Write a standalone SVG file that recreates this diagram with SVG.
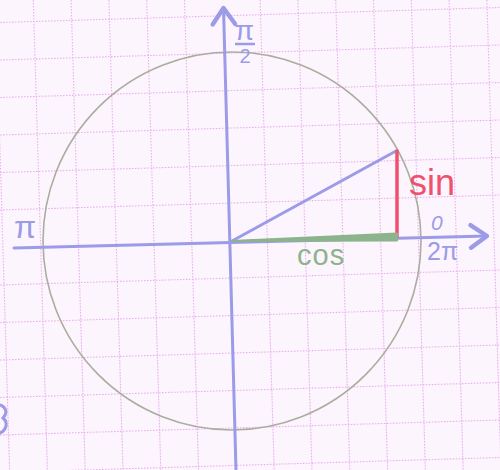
<svg xmlns="http://www.w3.org/2000/svg" width="500" height="470" viewBox="0 0 500 470">
<style>
.grid line{stroke:#e9b0ec;stroke-width:1.1;stroke-dasharray:1.6 1.4}
.axis{stroke:#9b9be8;stroke-width:3;fill:none;stroke-linecap:round}
.lbl{font-family:"Liberation Sans",Arial,sans-serif}
.blue{fill:#9b9be8}
</style>
<defs>
<marker id="arr" markerUnits="userSpaceOnUse" markerWidth="30" markerHeight="30" viewBox="-15 -12 20 24" refX="0" refY="0" orient="auto">
<path d="M-13,-9 L0,0 L-13,9" fill="none" stroke="#9b9be8" stroke-width="3.5" stroke-linecap="round" stroke-linejoin="round"/>
</marker>
</defs>
<rect width="500" height="470" fill="#fdf5fd"/>
<g class="grid" id="grid">
<line x1="-4.5" y1="0" x2="9.6" y2="470"/>
<line x1="33.3" y1="0" x2="47.4" y2="470"/>
<line x1="71.1" y1="0" x2="85.2" y2="470"/>
<line x1="108.9" y1="0" x2="123" y2="470"/>
<line x1="146.7" y1="0" x2="160.8" y2="470"/>
<line x1="184.5" y1="0" x2="198.6" y2="470"/>
<line x1="260.1" y1="0" x2="274.2" y2="470"/>
<line x1="297.9" y1="0" x2="312" y2="470"/>
<line x1="335.7" y1="0" x2="349.8" y2="470"/>
<line x1="373.5" y1="0" x2="387.6" y2="470"/>
<line x1="411.3" y1="0" x2="425.4" y2="470"/>
<line x1="449.1" y1="0" x2="463.2" y2="470"/>
<line x1="486.9" y1="0" x2="501" y2="470"/>
<line x1="0" y1="22.5" x2="500" y2="7.5"/>
<line x1="0" y1="60" x2="500" y2="45"/>
<line x1="0" y1="97.5" x2="500" y2="82.5"/>
<line x1="0" y1="135" x2="500" y2="120"/>
<line x1="0" y1="172.5" x2="500" y2="157.5"/>
<line x1="0" y1="210" x2="500" y2="195"/>
<line x1="0" y1="285" x2="500" y2="270"/>
<line x1="0" y1="322.5" x2="500" y2="307.5"/>
<line x1="0" y1="360" x2="500" y2="345"/>
<line x1="0" y1="397.5" x2="500" y2="382.5"/>
<line x1="0" y1="435" x2="500" y2="420"/>
<line x1="0" y1="472.5" x2="500" y2="457.5"/>
</g>
<g id="circle">
<circle cx="232" cy="241" r="189" fill="none" stroke="#a9ae9e" stroke-width="1.6"/>
</g>
<g id="connectors">
<line class="axis" x1="14" y1="248" x2="487" y2="236" marker-end="url(#arr)"/>
<line class="axis" x1="236" y1="470" x2="223.5" y2="8" marker-end="url(#arr)"/>
<line x1="232" y1="241" x2="396" y2="151" stroke="#9b9be8" stroke-width="3" stroke-linecap="round"/>
<line x1="397" y1="151" x2="397" y2="237" stroke="#f0506e" stroke-width="3.5" stroke-linecap="round"/>
<path d="M232,241 L397,233.5 L397,240.5 Z" fill="#8cb48c" stroke="#8cb48c" stroke-width="2" stroke-linejoin="round"/>
<path d="M0,405 C6,407 8,413 3,418 C8,422 7,430 0,433" fill="none" stroke="#9b9be8" stroke-width="3" stroke-linecap="round"/>
</g>
<g id="label-sin"><text class="lbl" x="409" y="195" font-size="36" fill="#f0506e">sin</text></g>
<g id="label-cos"><text class="lbl" x="297" y="265" font-size="29" fill="#8cb48c" letter-spacing="1">cos</text></g>
<g id="label-0"><text class="lbl blue" x="431" y="230" font-size="21" font-style="italic">0</text></g>
<g id="label-2pi"><text class="lbl blue" x="427" y="260" font-size="25">2π</text></g>
<g id="label-pi"><text class="lbl blue" x="14" y="238" font-size="32">π</text></g>
<g id="label-pi2">
<text class="lbl blue" x="244.5" y="40" font-size="28" text-anchor="middle">π</text>
<line x1="235" y1="44" x2="255" y2="44" stroke="#9b9be8" stroke-width="2.5"/>
<text class="lbl blue" x="245" y="63" font-size="20" text-anchor="middle">2</text>
</g>
</svg>
